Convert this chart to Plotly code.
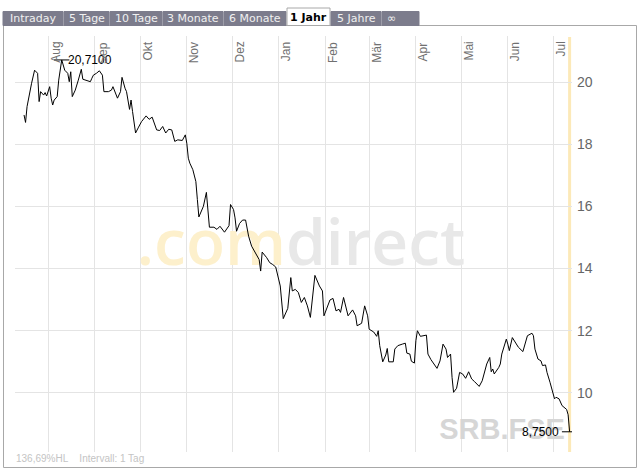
import pandas as pd
import plotly.graph_objects as go

# price series
dates = [
    "2011-07-16", "2011-07-17", "2011-07-18", "2011-07-20", "2011-07-21", "2011-07-23",
    "2011-07-25", "2011-07-26", "2011-07-27", "2011-07-29", "2011-07-30", "2011-07-31",
    "2011-08-02", "2011-08-03", "2011-08-04", "2011-08-05", "2011-08-07", "2011-08-08",
    "2011-08-10", "2011-08-12", "2011-08-14", "2011-08-15", "2011-08-16", "2011-08-17",
    "2011-08-19", "2011-08-21", "2011-08-23", "2011-08-24", "2011-08-26", "2011-08-29",
    "2011-08-30", "2011-08-31", "2011-09-02", "2011-09-04", "2011-09-06", "2011-09-07",
    "2011-09-10", "2011-09-12", "2011-09-13", "2011-09-15", "2011-09-16", "2011-09-18",
    "2011-09-19", "2011-09-21", "2011-09-22", "2011-09-24", "2011-09-25", "2011-09-26",
    "2011-09-28", "2011-09-30", "2011-10-02", "2011-10-05", "2011-10-07", "2011-10-09",
    "2011-10-12", "2011-10-14", "2011-10-16", "2011-10-18", "2011-10-20", "2011-10-22",
    "2011-10-24", "2011-10-26", "2011-10-29", "2011-10-31", "2011-11-01", "2011-11-02",
    "2011-11-03", "2011-11-05", "2011-11-07", "2011-11-08", "2011-11-09", "2011-11-12",
    "2011-11-14", "2011-11-16", "2011-11-19", "2011-11-21", "2011-11-23", "2011-11-26",
    "2011-11-29", "2011-11-30", "2011-12-02", "2011-12-03", "2011-12-04", "2011-12-06",
    "2011-12-08", "2011-12-10", "2011-12-12", "2011-12-14", "2011-12-17", "2011-12-19",
    "2011-12-20", "2011-12-21", "2011-12-24", "2011-12-26", "2011-12-28", "2011-12-30",
    "2012-01-02", "2012-01-04", "2012-01-07", "2012-01-09", "2012-01-10", "2012-01-12",
    "2012-01-14", "2012-01-16", "2012-01-18", "2012-01-20", "2012-01-22", "2012-01-25",
    "2012-01-28", "2012-01-30", "2012-01-31", "2012-02-02", "2012-02-04", "2012-02-06",
    "2012-02-08", "2012-02-10", "2012-02-11", "2012-02-13", "2012-02-15", "2012-02-16",
    "2012-02-19", "2012-02-21", "2012-02-22", "2012-02-25", "2012-02-27", "2012-02-29",
    "2012-03-01", "2012-03-04", "2012-03-06", "2012-03-07", "2012-03-08", "2012-03-09",
    "2012-03-10", "2012-03-12", "2012-03-13", "2012-03-14", "2012-03-17", "2012-03-18",
    "2012-03-20", "2012-03-23", "2012-03-25", "2012-03-26", "2012-03-28", "2012-03-29",
    "2012-03-31", "2012-04-01", "2012-04-02", "2012-04-04", "2012-04-06", "2012-04-08",
    "2012-04-09", "2012-04-11", "2012-04-15", "2012-04-17", "2012-04-19", "2012-04-21",
    "2012-04-22", "2012-04-24", "2012-04-25", "2012-04-26", "2012-04-28", "2012-04-30",
    "2012-05-02", "2012-05-04", "2012-05-06", "2012-05-08", "2012-05-10", "2012-05-13",
    "2012-05-15", "2012-05-17", "2012-05-18", "2012-05-20", "2012-05-21", "2012-05-22",
    "2012-05-23", "2012-05-26", "2012-05-27", "2012-05-28", "2012-05-29", "2012-05-31",
    "2012-06-01", "2012-06-02", "2012-06-04", "2012-06-06", "2012-06-08", "2012-06-11",
    "2012-06-12", "2012-06-14", "2012-06-17", "2012-06-18", "2012-06-19", "2012-06-21",
    "2012-06-23", "2012-06-24", "2012-06-26", "2012-06-27", "2012-06-29", "2012-06-30",
    "2012-07-02", "2012-07-03", "2012-07-05", "2012-07-07", "2012-07-09", "2012-07-10",
    "2012-07-11", "2012-07-12",
]
prices = [
    18.94, 18.70, 19.21, 19.80, 19.96, 20.38,
    20.28, 19.37, 19.69, 19.58, 19.66, 19.55,
    19.85, 19.48, 19.26, 19.42, 19.53, 20.06,
    20.71, 20.38, 20.28, 20.01, 20.33, 19.53,
    19.74, 20.06, 20.41, 20.09, 20.06, 20.01,
    20.12, 20.22, 20.28, 20.36, 20.22, 19.69,
    19.69, 19.74, 19.85, 19.58, 19.48, 19.69,
    20.15, 19.80, 19.69, 19.12, 19.42, 19.05,
    18.36, 18.55, 18.73, 18.91, 18.80, 18.87,
    18.46, 18.44, 18.57, 18.36, 18.48, 18.46,
    18.09, 18.14, 18.12, 18.30, 18.03, 17.55,
    17.39, 17.18, 16.80, 16.22, 15.66, 16.00,
    16.45, 15.33, 15.33, 15.26, 15.36, 15.17,
    15.38, 16.06, 15.90, 15.63, 15.20, 15.45,
    15.56, 15.56, 15.04, 14.72, 14.46, 14.29,
    13.92, 14.53, 14.35, 14.19, 14.13, 14.05,
    13.44, 12.39, 12.72, 13.71, 13.28, 13.33,
    13.23, 12.91, 13.07, 12.80, 12.43, 13.78,
    13.44, 13.28, 12.48, 12.75, 12.99, 13.04,
    12.64, 12.69, 12.59, 13.07, 12.64, 12.48,
    12.67, 12.48, 12.16, 12.24, 12.80, 12.48,
    12.05, 11.96, 11.82, 12.00, 11.52, 11.20,
    11.00, 11.22, 11.43, 11.00, 11.00, 11.41,
    11.52, 11.57, 11.60, 11.28, 11.25, 11.02,
    10.96, 11.68, 12.00, 11.82, 11.84, 11.86,
    11.25, 11.07, 10.79, 11.03, 11.57, 11.41,
    11.14, 11.25, 10.50, 10.02, 10.15, 10.66,
    10.61, 10.47, 10.68, 10.45, 10.36, 10.21,
    10.39, 10.77, 10.93, 11.14, 10.68, 10.77,
    10.61, 10.82, 10.93, 11.25, 11.41, 11.73,
    11.57, 11.36, 11.78, 11.63, 11.47, 11.33,
    11.52, 11.84, 11.92, 11.84, 11.41, 11.09,
    11.03, 10.88, 10.90, 10.66, 10.34, 10.13,
    9.81, 9.86, 9.81, 9.59, 9.51, 9.47,
    9.30, 8.75,
]

month_starts = ["2011-08-01", "2011-09-01", "2011-10-01", "2011-11-01", "2011-12-01",
                "2012-01-01", "2012-02-01", "2012-03-01", "2012-04-01", "2012-05-01",
                "2012-06-01", "2012-07-01"]
month_labels = ["Aug", "Sep", "Okt", "Nov", "Dez", "Jan", "Feb", "Mär", "Apr", "Mai", "Jun", "Jul"]
y_ticks = [10, 12, 14, 16, 18, 20]

tab_labels = ["Intraday", "5 Tage", "10 Tage", "3 Monate", "6 Monate", "1 Jahr", "5 Jahre", "∞"]
tab_edges = [3, 64, 110, 163, 224, 287, 331, 382, 420]
selected_tab = "1 Jahr"

X_RANGE = [pd.Timestamp("2011-07-10"), pd.Timestamp("2012-07-13 14:00")]
Y_RANGE = [8.10, 21.48]

# plot area in pixels
L, R, T, B = 15, 572, 36, 452
W, H = 641, 473


def px(x):
    return (x - L) / (R - L)


def py(y):
    return (B - y) / (B - T)


def pdate(x):
    return X_RANGE[0] + (X_RANGE[1] - X_RANGE[0]) * px(x)


def pval(y):
    return Y_RANGE[0] + (Y_RANGE[1] - Y_RANGE[0]) * py(y)


fig = go.Figure()

# watermarks as text traces so the price line stays on top
fig.add_trace(go.Scatter(
    x=[pdate(286), pdate(286)], y=[pval(249), pval(249)],
    mode="text", text=[".com", "direct"],
    textposition=["middle left", "middle right"],
    textfont=dict(family="Open Sans, Liberation Sans", size=64, weight=600,
                  color=["#fdf0cc", "#e8e8e8"]),
    hoverinfo="skip", showlegend=False,
))
fig.add_trace(go.Scatter(
    x=[pdate(502)], y=[pval(432)],
    mode="text", text=["SRB.FSE"], textposition="middle center",
    textfont=dict(family="Liberation Sans, Arial", size=29, color="#d6d6d6", weight="bold"),
    hoverinfo="skip", showlegend=False,
))

fig.add_trace(go.Scatter(
    x=dates, y=prices, mode="lines",
    line=dict(color="black", width=1),
    hoverinfo="skip", showlegend=False,
))

# max / last markers
i_max = prices.index(max(prices))
fig.add_trace(go.Scatter(
    x=[dates[i_max], dates[-1]], y=[prices[i_max], prices[-1]],
    mode="markers",
    marker=dict(symbol="line-ew", size=11, line=dict(color="black", width=1)),
    hoverinfo="skip", showlegend=False,
))

annotations = [
    dict(x=dates[i_max], y=prices[i_max], xref="x", yref="y", text="20,7100",
         xanchor="left", yanchor="middle", xshift=4, showarrow=False,
         font=dict(family="Liberation Sans, Arial", size=12, color="black")),
    dict(x=dates[-1], y=prices[-1], xref="x", yref="y", text="8,7500",
         xanchor="right", yanchor="middle", xshift=-9, showarrow=False,
         font=dict(family="Liberation Sans, Arial", size=12, color="black")),
    dict(x=px(14), y=py(458), xref="paper", yref="paper",
         text="136,69%HL&nbsp;&nbsp;&nbsp;&nbsp;Intervall: 1 Tag",
         xanchor="left", yanchor="middle", showarrow=False,
         font=dict(family="Liberation Sans, Arial", size=10, color="#c4c4c4")),
]
for d, lab in zip(month_starts, month_labels):
    annotations.append(dict(
        x=d, y=py(40), xref="x", yref="paper", text=lab, textangle=-90,
        xanchor="left", yanchor="top", xshift=-1, showarrow=False,
        font=dict(family="Liberation Sans, Arial", size=12, color="#707070"),
    ))

shapes = [
    # outer frame
    dict(type="rect", xref="paper", yref="paper",
         x0=px(3.5), x1=px(636.5), y0=py(467.5), y1=py(25.5),
         line=dict(color="#a8a8a8", width=1), layer="below"),
    # today marker
    dict(type="line", xref="x", yref="paper", x0=dates[-1], x1=dates[-1],
         y0=0, y1=py(37), line=dict(color="#fce9b8", width=3), layer="below"),
]

# period tabs
for lab, x0, x1 in zip(tab_labels, tab_edges[:-1], tab_edges[1:]):
    sel = lab == selected_tab
    shapes.append(dict(
        type="rect", xref="paper", yref="paper",
        x0=px(x0), x1=px(x1 - 1), y0=py(25.5), y1=py(8 if sel else 11.5),
        fillcolor="white" if sel else "#7c7c8c",
        line=dict(color="#a8a8a8" if sel else "#7c7c8c", width=1),
    ))
    if lab == "∞":
        tx, anchor = px(x0 + 3), "left"
    else:
        tx, anchor = px((x0 + x1 - 1) / 2), "center"
    annotations.append(dict(
        x=tx, y=py(18.5 if not sel else 17.5), xref="paper", yref="paper",
        text=f"<b>{lab}</b>" if sel else lab, showarrow=False,
        xanchor=anchor, yanchor="middle",
        font=dict(family="DejaVu Sans, Verdana", size=11, color="black" if sel else "#f0f0f0"),
    ))

fig.update_layout(
    width=W, height=H,
    margin=dict(l=L, r=W - R, t=T, b=H - B),
    paper_bgcolor="white", plot_bgcolor="white",
    shapes=shapes, annotations=annotations,
    xaxis=dict(
        type="date", range=X_RANGE, showticklabels=False,
        tick0="2011-08-01", dtick="M1",
        showgrid=True, gridcolor="#e4e4e4", gridwidth=1,
        zeroline=False, showline=False, ticks="",
    ),
    yaxis=dict(
        range=Y_RANGE, side="right", tickvals=y_ticks,
        ticktext=[str(v) for v in y_ticks],
        showgrid=True, gridcolor="#e4e4e4", gridwidth=1,
        zeroline=False, showline=False, ticks="",
        ticklabelstandoff=4,
        tickfont=dict(family="Liberation Sans, Arial", size=14, color="#666666"),
    ),
)

# page body margin would shift the chart by 8px; drop it
fig.write_html("out.html", config={"displayModeBar": False},
               post_script="document.body.style.margin='0';")
